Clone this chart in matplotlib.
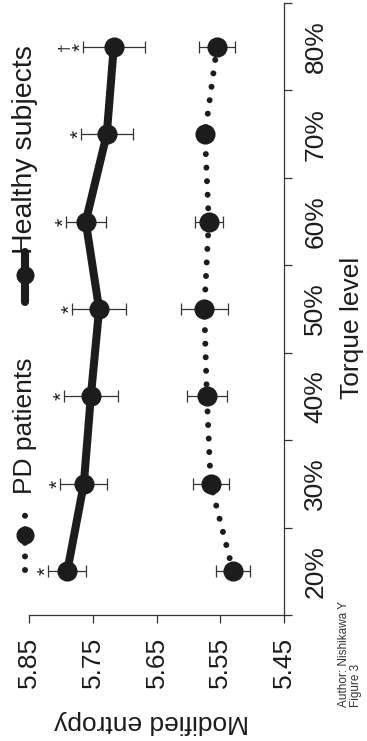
import matplotlib
matplotlib.use('Agg')
import matplotlib.pyplot as plt
import numpy as np

plt.rcParams['font.family'] = ['Liberation Sans', 'DejaVu Sans']

# ---- data ----
levels = ['20%', '30%', '40%', '50%', '60%', '70%', '80%']
healthy_mean = [5.790, 5.764, 5.753, 5.740, 5.761, 5.728, 5.717]
healthy_err = [0.030, 0.037, 0.042, 0.042, 0.031, 0.041, 0.049]
pd_mean = [5.530, 5.565, 5.571, 5.575, 5.568, 5.574, 5.555]
pd_err = [0.027, 0.028, 0.031, 0.037, 0.022, 0.010, 0.028]
sig_star = ['*', '*', '*', '*', '*', '*', '*']
sig_dagger = ['', '', '', '', '', '', '†']
entropy_ticks = [5.85, 5.75, 5.65, 5.55, 5.45]

INK = '#1c1c1c'

fig = plt.figure(figsize=(3.67, 7.41), dpi=100)
W, H = 367, 741
ax_l, ax_r, ax_t, ax_b = 29, 284, 3, 615
ax = fig.add_axes([ax_l / W, (H - ax_b) / H, (ax_r - ax_l) / W, (ax_b - ax_t) / H])

pos = np.arange(len(levels)) + 0.5

# PD patients (dotted)
ax.plot(pd_mean, pos, color=INK, lw=4.3, linestyle=(0, (0.01, 2.26)),
        dash_capstyle='round', zorder=2)
ax.errorbar(pd_mean, pos, xerr=pd_err, fmt='none', ecolor='#333333',
            elinewidth=0.9, capsize=4.3, capthick=0.9, zorder=1)
ax.plot(pd_mean, pos, 'o', color=INK, ms=13.5, zorder=3)

# Healthy subjects (solid)
ax.plot(healthy_mean, pos, color=INK, lw=5.8, solid_capstyle='round', zorder=2)
ax.errorbar(healthy_mean, pos, xerr=healthy_err, fmt='none', ecolor='#333333',
            elinewidth=0.9, capsize=4.3, capthick=0.9, zorder=1)
ax.plot(healthy_mean, pos, 'o', color=INK, ms=13.5, zorder=3)

# significance marks
for m, e, p, s, d in zip(healthy_mean, healthy_err, pos, sig_star, sig_dagger):
    ax.annotate(s, xy=(m + e, p), xytext=(-1.5, 0), textcoords='offset points',
                rotation=90, ha='center', va='center', fontsize=15, color=INK)
    if d:
        ax.annotate(d, xy=(m + e, p), xytext=(-13, 0), textcoords='offset points',
                    rotation=90, ha='center', va='center', fontsize=11, color=INK)

# axes
ax.set_xlim(5.85, 5.45)
ax.set_ylim(0, len(levels))
ax.set_xticks(entropy_ticks)
ax.set_xticklabels([f'{t:.2f}' for t in entropy_ticks])
ax.tick_params(axis='x', direction='out', length=6, width=0.9, color='#333333',
               labelrotation=90, labelsize=19, pad=10, labelcolor=INK)

ax.yaxis.tick_right()
ax.set_yticks(np.arange(len(levels) + 1))
ax.set_yticklabels([])
ax.set_yticks(pos, minor=True)
ax.set_yticklabels(levels, minor=True)
ax.tick_params(axis='y', which='major', direction='out', length=6, width=0.9,
               color='#333333')
ax.tick_params(axis='y', which='minor', length=0, labelrotation=90, labelsize=19,
               pad=14, labelcolor=INK, right=True, labelright=True,
               left=False, labelleft=False)
for lab in ax.get_yticklabels(minor=True):
    lab.set_va('center')

for sp in ['top', 'left']:
    ax.spines[sp].set_visible(False)
for sp in ['bottom', 'right']:
    ax.spines[sp].set_linewidth(0.9)
    ax.spines[sp].set_color('#333333')

# axis titles
def fx(px):
    return (px - ax_l) / (ax_r - ax_l)

def fy(py):
    return (ax_b - py) / (ax_b - ax_t)

ax.set_xlabel('Modified entropy', rotation=180, fontsize=19, color=INK)
ax.xaxis.set_label_coords(fx(152), fy(722))
ax.xaxis.label.set_va('center')
ax.yaxis.set_label_position('right')
ax.set_ylabel('Torque level', rotation=90, fontsize=19, color=INK)
ax.yaxis.set_label_coords(fx(352), fy(328))
ax.yaxis.label.set_va('center')

# legend (rotated, drawn manually)
lx = fx(25)
ax.plot([lx, lx], [fy(570), fy(514)], transform=ax.transAxes, clip_on=False,
        color=INK, lw=4.3, linestyle=(0, (0.01, 2.26)), dash_capstyle='round')
ax.plot([lx], [fy(535)], 'o', transform=ax.transAxes, clip_on=False, color=INK, ms=12)
ax.text(lx, fy(494), 'PD patients', rotation=90, ha='center', va='bottom',
        transform=ax.transAxes, fontsize=19, color=INK)

ax.plot([lx, lx], [fy(302), fy(252)], transform=ax.transAxes, clip_on=False,
        color=INK, lw=5.8, solid_capstyle='round')
ax.plot([lx], [fy(275)], 'o', transform=ax.transAxes, clip_on=False, color=INK, ms=12)
ax.text(lx, fy(254), 'Healthy subjects', rotation=90, ha='center', va='bottom',
        transform=ax.transAxes, fontsize=20.5, color=INK)

fig.text(350 / W, 1 - 707 / H, 'Author: Nishikawa Y\nFigure 3', rotation=90,
         ha='center', va='bottom', multialignment='left', fontsize=8.5, color='#333333',
         linespacing=1.0)

fig.savefig('out.png', dpi=100)
